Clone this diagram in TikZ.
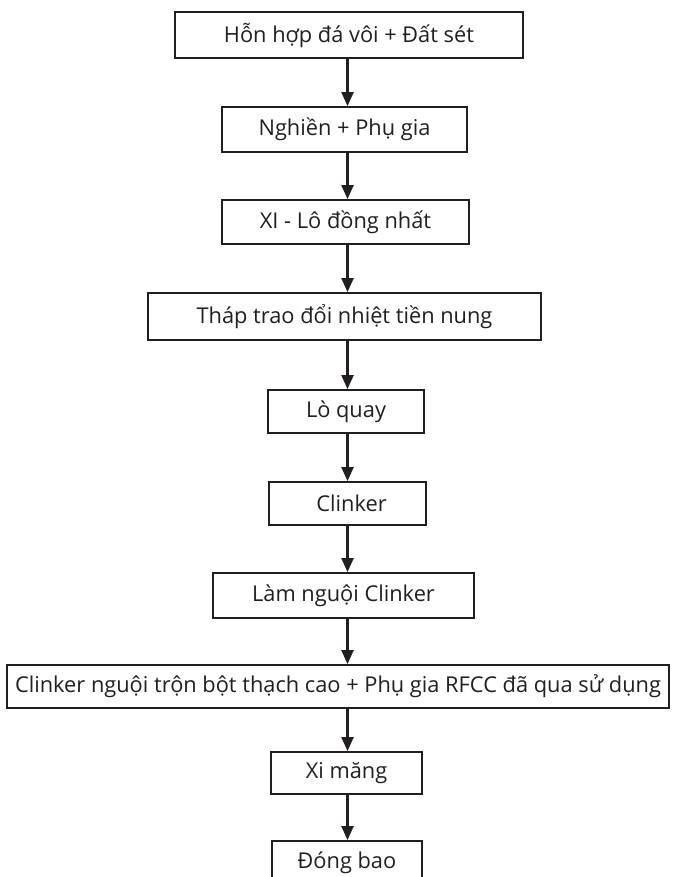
\documentclass[tikz,border=0pt]{standalone}
\usepackage{fontspec}
\setmainfont{Open Sans}
\usetikzlibrary{arrows.meta}
\definecolor{ink}{RGB}{35,31,32}
\tikzset{
  stepbox/.style={draw=ink, line width=1.8pt, fill=white, inner sep=0pt, align=center,
    font=\fontsize{21.8}{25}\selectfont, text=ink},
  arr/.style={draw=ink, line width=2.2pt, -{Triangle[width=12pt,length=14pt]}}
}
\begin{document}
\begin{tikzpicture}[x=1pt,y=-1pt]
\path[use as bounding box] (0,0) rectangle (672,877);
\clip (0,0) rectangle (672,877);
\coordinate (ax) at (347.5,0);
\node[stepbox, minimum width=348pt, minimum height=46pt] (b1) at (349,35) {Hỗn hợp đá vôi + Đất sét};
\node[stepbox, minimum width=245pt, minimum height=45pt] (b2) at (344.5,129.5) {Nghiền + Phụ gia};
\node[stepbox, minimum width=247pt, minimum height=44pt] (b3) at (345.5,222) {XI - Lô đồng nhất};
\node[stepbox, minimum width=393pt, minimum height=47pt] (b4) at (344.5,316.5) {Tháp trao đổi nhiệt tiền nung};
\node[stepbox, minimum width=156pt, minimum height=43pt] (b5) at (346,411.5) {Lò quay};
\node[stepbox, minimum width=157pt, minimum height=43pt] (b6) at (347.5,503.5) {\hspace{8pt}Clinker};
\node[stepbox, minimum width=261pt, minimum height=45pt] (b7) at (343.5,595.5) {Làm nguội Clinker};
\node[stepbox, minimum width=662pt, minimum height=43pt] (b8) at (338,686.5) {Clinker nguội trộn bột thạch cao + Phụ gia RFCC đã qua sử dụng};
\node[stepbox, minimum width=151pt, minimum height=42pt] (b9) at (346.5,773) {Xi măng};
\node[stepbox, minimum width=150pt, minimum height=44pt] (b10) at (347,863) {Đóng bao};
\foreach \a/\b in {b1/b2,b2/b3,b3/b4,b4/b5,b5/b6,b6/b7,b7/b8,b8/b9,b9/b10}{
  \draw[arr] (\a.south -| ax) -- (\b.north -| ax);
}
\end{tikzpicture}
\end{document}
